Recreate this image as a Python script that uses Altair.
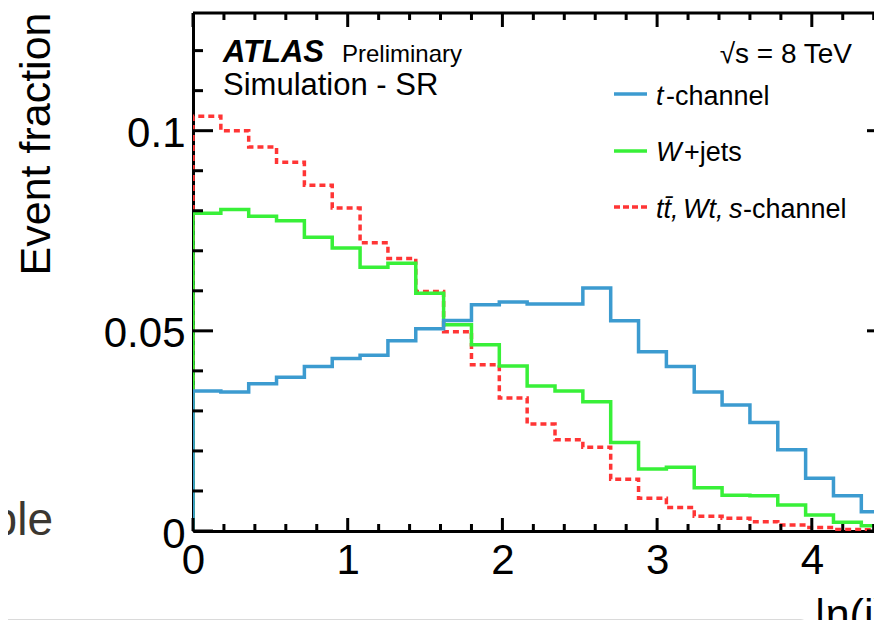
import altair as alt
import pandas as pd

# ---------------- data ----------------
BIN_EDGES = [round(0.18 * k, 2) for k in range(26)]   # 25 bins, 0 .. 4.5

T_CHANNEL = [0.0350, 0.0347, 0.0368, 0.0384, 0.0411, 0.0431, 0.0439, 0.0475,
             0.0505, 0.0526, 0.0565, 0.0572, 0.0567, 0.0567, 0.0607, 0.0525,
             0.0448, 0.0411, 0.0347, 0.0315, 0.0271, 0.0203, 0.0132, 0.0088,
             0.0048]
W_JETS = [0.0794, 0.0803, 0.0786, 0.0775, 0.0734, 0.0707, 0.0659, 0.0669,
          0.0594, 0.0515, 0.0465, 0.0412, 0.0362, 0.0350, 0.0323, 0.0221,
          0.0155, 0.0159, 0.0108, 0.0089, 0.0088, 0.0065, 0.0040, 0.0022,
          0.0013]
TOP_BKG = [0.1036, 0.1000, 0.0959, 0.0921, 0.0864, 0.0807, 0.0720, 0.0681,
           0.0598, 0.0498, 0.0415, 0.0332, 0.0267, 0.0228, 0.0209, 0.0129,
           0.0082, 0.0059, 0.0037, 0.0032, 0.0023, 0.0015, 0.0009, 0.0004,
           0.0003]

Y_MAJOR = [0.0, 0.05, 0.1]
Y_MINOR = [0.01, 0.02, 0.03, 0.04, 0.06, 0.07, 0.08, 0.09, 0.11, 0.12]
X_MAJOR = [0, 1, 2, 3, 4]
X_MINOR = [0.2, 0.4, 0.6, 0.8, 1.2, 1.4, 1.6, 1.8, 2.2, 2.4, 2.6, 2.8,
           3.2, 3.4, 3.6, 3.8, 4.2, 4.4]

# ---------------- layout ----------------
W, H = 681, 518
X_FULL = 696          # pixel position of x = 4.5 (frame edge, outside the crop)
FONT = "Liberation Sans"

xscale = alt.Scale(domain=[0, 4.402], nice=False, zero=False)
yscale = alt.Scale(domain=[0, 0.1294], nice=False, zero=False)


def steps(vals):
    xs = [BIN_EDGES[0]] + BIN_EDGES[:-1] + [BIN_EDGES[-1], BIN_EDGES[-1]]
    ys = [0.0] + list(vals) + [vals[-1], 0.0]
    return pd.DataFrame({"x": xs, "y": ys, "i": list(range(len(xs)))})


x_axis = alt.Axis(orient="bottom", values=X_MAJOR, ticks=False, grid=False,
                  domain=True, domainColor="black", domainWidth=3,
                  labelFont=FONT, labelFontSize=42, labelColor="black",
                  labelPadding=9, labelFlush=False, labelOverlap=False,
                  title="|η(j)|", titleFont=FONT, titleFontSize=43,
                  titleFontWeight="normal", titleColor="black",
                  titleAlign="left", titleBaseline="alphabetic",
                  titleX=621, titleY=97)
y_axis = alt.Axis(orient="left", values=Y_MAJOR, format="~g", ticks=False,
                  grid=False, domain=True, domainColor="black", domainWidth=3,
                  labelFont=FONT, labelFontSize=42, labelColor="black",
                  labelPadding=8, labelOffset=3, labelFlush=False,
                  labelOverlap=False,
                  title="Event fraction", titleFont=FONT, titleFontSize=43,
                  titleFontWeight="normal", titleColor="black",
                  titleAngle=270, titleAlign="right",
                  titleBaseline="alphabetic", titleX=-144, titleY=-1)


def hist(vals, color, dash=None):
    kw = dict(interpolate="step-after", color=color, strokeWidth=3.5,
              clip=True, strokeCap="butt")
    if dash:
        kw["strokeDash"] = dash
    return alt.Chart(steps(vals)).mark_line(**kw).encode(
        x=alt.X("x:Q", scale=xscale, axis=x_axis),
        y=alt.Y("y:Q", scale=yscale, axis=y_axis),
        order="i:Q",
    )


RED = "#ff3535"
GREEN = "#38f038"
BLUE = "#3c9bd0"

red = hist(TOP_BKG, RED, dash=[6, 4])
green = hist(W_JETS, GREEN)
blue = hist(T_CHANNEL, BLUE)


def yticks(vals, x1, x2):
    return alt.Chart(pd.DataFrame({"v": vals})).mark_rule(
        color="black", strokeWidth=3).encode(
        y=alt.Y("v:Q", scale=yscale, axis=y_axis),
        x=alt.value(x1), x2=alt.value(x2))


def xticks(vals, y1, y2):
    return alt.Chart(pd.DataFrame({"v": vals})).mark_rule(
        color="black", strokeWidth=3).encode(
        x=alt.X("v:Q", scale=xscale, axis=x_axis),
        y=alt.value(y1), y2=alt.value(y2))


ticks = [
    yticks(Y_MAJOR, 0, 20), yticks(Y_MINOR, 0, 10),
    yticks(Y_MAJOR, X_FULL - 22, X_FULL), yticks(Y_MINOR, X_FULL - 11, X_FULL),
    xticks(X_MAJOR, H - 13, H), xticks(X_MINOR, H - 7, H),
    xticks(X_MAJOR, 0, 14), xticks(X_MINOR, 0, 7),
]

one = pd.DataFrame({"k": [0]})

top_frame = alt.Chart(one).mark_rule(color="black", strokeWidth=3).encode(
    x=alt.value(0), x2=alt.value(X_FULL), y=alt.value(0))


def txt(s, x, y, size, style="normal", weight="normal", align="left",
        color="black"):
    kw = dict(font=FONT, fontSize=size, fontStyle=style, fontWeight=weight,
              align=align, baseline="alphabetic", color=color)
    return alt.Chart(one).mark_text(**kw).encode(
        x=alt.value(x), y=alt.value(y), text=alt.value(s))


def seg(y, color, dash=None):
    kw = dict(color=color, strokeWidth=3.5, strokeCap="butt")
    if dash:
        kw["strokeDash"] = dash
    return alt.Chart(one).mark_rule(**kw).encode(
        x=alt.value(421), x2=alt.value(454), y=alt.value(y))


texts = [
    txt("ATLAS", 30, 49, 31, style="italic", weight="bold"),
    txt("Preliminary", 149, 49, 24),
    txt("Simulation - SR", 30, 82, 31),
    txt("√s = 8 TeV", 659, 50, 28, align="right"),
    seg(81, BLUE), seg(138, GREEN), seg(194, RED, dash=[6, 3]),
    txt("t", 463, 92, 27, style="italic"),
    txt("-channel", 473, 92, 27),
    txt("W", 463, 148, 27, style="italic"),
    txt("+jets", 491, 148, 27),
    txt("tt\u0304,", 463, 205, 27, style="italic"),
    txt("Wt,", 490, 205, 27, style="italic"),
    txt("s", 536, 205, 27, style="italic"),
    txt("-channel", 550, 205, 27),
    txt("ble", -140, 522, 46, align="right", color="#3b3731"),
]

# slide box at the bottom of the crop
shadow = alt.Chart(one).mark_rect(fill="white", stroke="#dadada",
                                  strokeWidth=6, cornerRadius=6).encode(
    x=alt.value(-200), x2=alt.value(613), y=alt.value(609), y2=alt.value(700))
box = alt.Chart(one).mark_rect(fill="white", stroke="#4a86ee",
                               strokeWidth=5, cornerRadius=5).encode(
    x=alt.value(-200), x2=alt.value(612), y=alt.value(614.5), y2=alt.value(700))

chart = alt.layer(shadow, box, red, green, blue, *ticks, top_frame, *texts).properties(
    width=W, height=H,
    autosize=alt.AutoSizeParams(type="none"),
    padding={"left": 185, "top": 5, "right": 0, "bottom": 89},
).configure_view(strokeWidth=0).configure(font=FONT)

chart.save("out.html", embed_options={"renderer": "svg", "actions": False})
